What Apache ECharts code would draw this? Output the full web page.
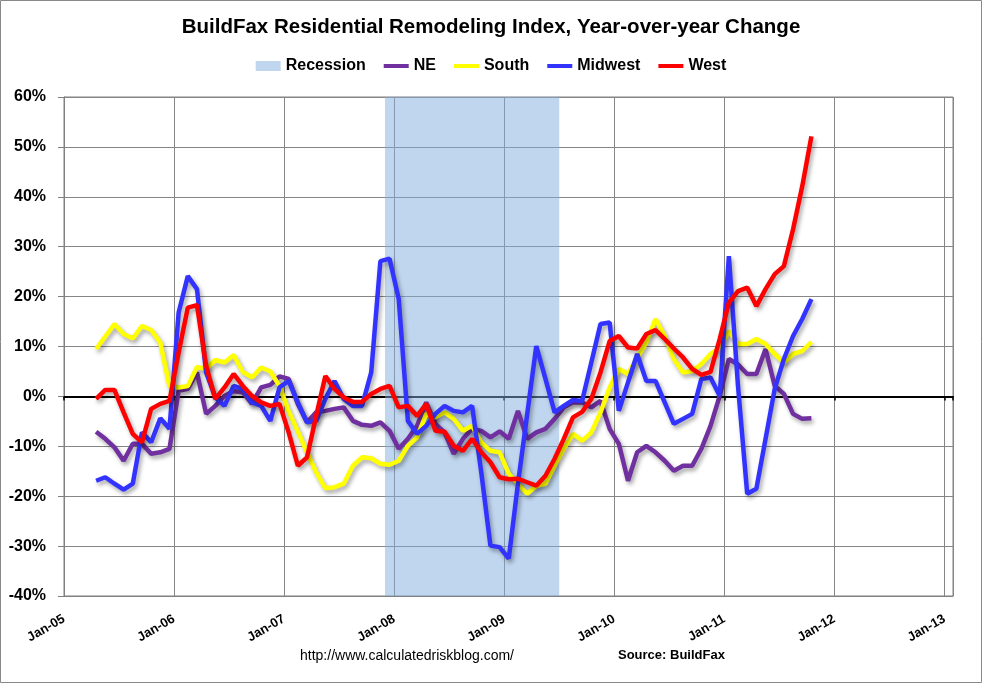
<!DOCTYPE html>
<html>
<head>
<meta charset="utf-8">
<title>BuildFax Residential Remodeling Index</title>
<script src="https://cdn.jsdelivr.net/npm/echarts@6/dist/echarts.min.js"></script>
<style>
  html, body { margin: 0; padding: 0; background: #fff; }
  #chart { width: 982px; height: 683px; }
</style>
</head>
<body>
<div id="chart"></div>
<script>
// x is counted in months from Jan-05; one label per year
var yearLabels = ['Jan-05', 'Jan-06', 'Jan-07', 'Jan-08', 'Jan-09', 'Jan-10', 'Jan-11', 'Jan-12', 'Jan-13'];
var firstMonth = 3.5;          // first value: Apr-05 (mid month)
var recession = [35, 54];      // Dec-07 .. Jun-09

// year-over-year change, %, monthly Apr-05 .. Oct-11
var ne = [-7.1, -8.5, -10.2, -12.9, -9.5, -9.5, -11.5, -11.2, -10.5, 1.1, 1.5, 4.8,
  -3.5, -1.9, 0.1, 1.1, 0.8, -1.5, 1.8, 2.3, 4.0, 3.5, -1.5, -5.2,
  -3.2, -2.9, -2.5, -2.2, -4.9, -5.7, -5.9, -5.2, -6.9, -10.5, -8.5, -5.9,
  -1.2, -5.5, -7.2, -11.5, -8.5, -6.5, -6.9, -8.2, -7.0, -8.5, -2.9, -8.5,
  -7.2, -6.5, -4.5, -2.2, -1.2, -1.2, -2.2, -0.9, -6.5, -9.5, -16.9, -11.2,
  -9.9, -11.2, -12.9, -14.9, -13.9, -13.9, -10.5, -5.9, 0.1, 7.5, 6.4, 4.5,
  4.5, 9.5, 2.1, 0.5, -3.5, -4.5, -4.4];
var south = [9.5, 12.0, 14.5, 12.5, 11.6, 14.1, 13.3, 10.8, 2.1, 1.8, 2.1, 5.9,
  5.5, 7.3, 6.8, 8.3, 4.9, 3.8, 5.8, 5.0, 2.1, -3.0, -7.0, -11.2,
  -15.2, -18.4, -18.2, -17.5, -13.9, -12.2, -12.4, -13.5, -13.7, -12.9, -9.9, -8.2,
  -3.5, -4.2, -3.2, -4.5, -6.9, -5.9, -9.2, -10.9, -11.2, -15.5, -17.5, -19.5,
  -17.9, -17.5, -13.9, -10.5, -7.5, -8.9, -7.2, -3.2, 1.8, 5.5, 4.5, 7.8,
  10.8, 15.5, 12.1, 7.5, 4.8, 5.1, 6.5, 8.5, 9.8, 13.1, 10.5, 10.5,
  11.5, 10.5, 8.5, 6.8, 8.5, 9.1, 10.9];
var midwest = [-16.9, -16.2, -17.5, -18.7, -17.5, -7.2, -9.2, -4.4, -6.5, 16.8, 24.1, 21.5,
  4.8, -0.2, -1.9, 2.1, 1.5, -1.2, -1.9, -4.9, 1.8, 3.1, -1.2, -5.2,
  -4.9, -0.5, 3.1, -0.5, -1.9, -1.9, 4.8, 27.1, 27.6, 19.5, -4.9, -7.5,
  -5.9, -3.5, -1.9, -2.9, -3.2, -1.9, -15.2, -29.9, -30.2, -32.5, -17.5, -3.7,
  10.1, 3.5, -3.2, -1.9, -0.7, -0.9, 6.8, 14.5, 14.8, -2.9, 2.8, 8.5,
  3.1, 3.1, -1.2, -5.5, -4.5, -3.5, 3.5, 3.8, 0.1, 28.1, 2.0, -19.5,
  -18.5, -8.5, 1.5, 7.5, 12.1, 15.5, 19.5];
var west = [-0.5, 1.3, 1.3, -3.2, -7.5, -9.2, -2.5, -1.5, -0.9, 8.8, 17.8, 18.3,
  6.1, -0.5, 1.8, 4.5, 2.1, 0.1, -1.2, -1.9, -1.5, -7.2, -13.9, -12.2,
  -3.9, 4.1, 1.5, -0.2, -1.1, -1.1, 0.5, 1.5, 2.1, -2.2, -1.9, -3.9,
  -1.5, -6.9, -7.1, -9.9, -10.9, -8.5, -11.2, -13.2, -16.2, -16.6, -16.5, -17.2,
  -17.9, -15.9, -12.5, -8.5, -4.2, -3.1, -0.5, 4.8, 11.1, 12.1, 9.8, 9.6,
  12.5, 13.3, 11.5, 9.6, 7.8, 5.5, 4.3, 4.9, 11.5, 18.8, 21.1, 21.8,
  18.1, 21.5, 24.5, 26.1, 33.5, 42.1, 52.1];

var fontName = '"Liberation Sans", Arial, sans-serif';
var lineIcon = 'path://M0,0 L25,0 L25,4 L0,4 Z';

function toPoints(values) {
  return values.map(function (v, i) { return [firstMonth + i, v]; });
}

function lineSeries(name, color, values) {
  return {
    name: name,
    type: 'line',
    data: toPoints(values),
    symbol: 'none',
    showSymbol: false,
    itemStyle: { color: color },
    lineStyle: {
      color: color,
      width: 4.5,
      shadowColor: 'rgba(0,0,0,0.35)',
      shadowBlur: 4,
      shadowOffsetX: 2,
      shadowOffsetY: 3
    },
    z: 3
  };
}

var chart = echarts.init(document.getElementById('chart'));

var option = {
  animation: false,
  backgroundColor: '#fff',
  textStyle: { fontFamily: fontName },
  title: {
    text: 'BuildFax Residential Remodeling Index, Year-over-year Change',
    left: 'center',
    top: 12,
    textStyle: { fontFamily: fontName, fontSize: 20.5, fontWeight: 'bold', color: '#000' }
  },
  legend: {
    top: 53,
    left: 'center',
    itemWidth: 25,
    itemHeight: 10,
    itemGap: 18,
    textStyle: { fontFamily: fontName, fontSize: 16, fontWeight: 'bold', color: '#000' },
    data: [
      { name: 'Recession', icon: 'rect' },
      { name: 'NE', icon: lineIcon },
      { name: 'South', icon: lineIcon },
      { name: 'Midwest', icon: lineIcon },
      { name: 'West', icon: lineIcon }
    ]
  },
  grid: {
    left: 64,
    right: 29,
    top: 97,
    bottom: 87,
    show: true,
    borderColor: '#808080',
    borderWidth: 1
  },
  xAxis: [{
    type: 'value',
    min: 0,
    max: 96.94,
    interval: 12,
    position: 'bottom',
    axisLine: { show: true, onZero: false, lineStyle: { color: '#808080' } },
    axisTick: { show: false },
    splitLine: { show: true, lineStyle: { color: '#868686' } },
    axisLabel: {
      rotate: 30,
      margin: 22,
      fontFamily: fontName,
      fontSize: 13,
      fontWeight: 'bold',
      color: '#000',
      formatter: function (v) {
        return v % 12 === 0 ? yearLabels[v / 12] : '';
      }
    }
  }, {
    // black zero line
    type: 'value',
    min: 0,
    max: 96.94,
    interval: 12,
    position: 'bottom',
    axisLine: { show: true, onZero: true, lineStyle: { color: '#000', width: 2 } },
    axisTick: { show: true, length: 4, lineStyle: { color: '#000', width: 1.5 } },
    axisLabel: { show: false },
    splitLine: { show: false }
  }],
  yAxis: {
    type: 'value',
    min: -40,
    max: 60,
    interval: 10,
    axisLine: { show: true, onZero: false, lineStyle: { color: '#808080' } },
    axisTick: { show: true, length: 6, lineStyle: { color: '#808080' } },
    splitLine: { show: true, lineStyle: { color: '#868686' } },
    axisLabel: {
      formatter: '{value}%',
      margin: 18,
      fontFamily: fontName,
      fontSize: 16,
      fontWeight: 'bold',
      color: '#000'
    }
  },
  series: [{
    name: 'Recession',
    type: 'line',
    data: [],
    itemStyle: { color: '#C0D6EE' },
    markArea: {
      silent: true,
      itemStyle: { color: 'rgba(129,173,221,0.5)' },
      data: [[{ xAxis: recession[0] }, { xAxis: recession[1] }]]
    }
  },
    lineSeries('NE', '#7030A0', ne),
    lineSeries('South', '#FFFF00', south),
    lineSeries('Midwest', '#3333FF', midwest),
    lineSeries('West', '#FF0000', west)
  ],
  graphic: [{
    type: 'rect',
    shape: { x: 0.5, y: 0.5, width: 981, height: 682 },
    style: { fill: 'none', stroke: '#888', lineWidth: 1 },
    silent: true
  }, {
    type: 'text',
    left: 300,
    top: 649,
    style: { text: 'http://www.calculatedriskblog.com/', font: '14px ' + fontName, fill: '#000' }
  }, {
    type: 'text',
    left: 618,
    top: 649,
    style: { text: 'Source: BuildFax', font: 'bold 13px ' + fontName, fill: '#000' }
  }]
};

chart.setOption(option);
</script>
</body>
</html>
